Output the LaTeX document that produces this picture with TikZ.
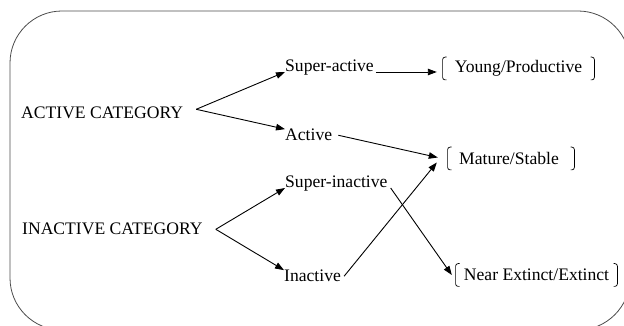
\documentclass[tikz,border=0pt]{standalone}
\usepackage{fontspec}
\setmainfont{Liberation Serif}
\usetikzlibrary{arrows.meta,positioning,calc}
\tikzset{
  lbl/.style={font=\fontsize{17.6}{20}\selectfont,inner sep=0pt,anchor=base west},
  stage/.style={font=\fontsize{17.6}{20}\selectfont,inner sep=0pt,minimum height=24pt,
    path picture={
      \draw[line width=0.7pt,rounded corners=2.5pt]
        ([shift={(4.5pt,-0.6pt)}]path picture bounding box.north west) -- ([shift={(0.6pt,-0.6pt)}]path picture bounding box.north west)
        -- ([shift={(0.6pt,0.6pt)}]path picture bounding box.south west) -- ([shift={(4.5pt,0.6pt)}]path picture bounding box.south west);
      \draw[line width=0.7pt,rounded corners=2.5pt]
        ([shift={(-4.5pt,-0.6pt)}]path picture bounding box.north east) -- ([shift={(-0.6pt,-0.6pt)}]path picture bounding box.north east)
        -- ([shift={(-0.6pt,0.6pt)}]path picture bounding box.south east) -- ([shift={(-4.5pt,0.6pt)}]path picture bounding box.south east);
    }},
  flow/.style={-{Triangle[length=9pt,width=6.5pt]},line width=0.9pt},
  frame/.style={draw=black!70,line width=0.8pt,rounded corners=52pt}
}
\begin{document}
\begin{tikzpicture}[x=1pt,y=1pt]
  \useasboundingbox (0,0) rectangle (624,326);
  % outer frame (runs off the right and bottom edges)
  \draw[frame] (10,-4) rectangle (630,315);
  % categories
  \node[lbl] (act) at (21,207) {ACTIVE CATEGORY};
  \node[lbl] (inact) at (22,91) {INACTIVE CATEGORY};
  % sub-classes
  \node[lbl] (sact) at (285,254) {Super-active};
  \node[lbl] (active) at (285,185) {Active};
  \node[lbl] (sinact) at (285,138) {Super-inactive};
  \node[lbl] (inactive) at (284,44) {Inactive};
  % stages
  \node[stage,minimum width=153pt] (young) at (518.5,257.5) {Young/Productive};
  \node[stage,minimum width=128pt] (mature) at (511,167.5) {\hspace*{-4pt}Mature/Stable};
  \node[stage,minimum width=163pt] (near) at (536.5,51) {Near Extinct/Extinct};
  % forks
  \coordinate (actfork) at ([shift={(13pt,4pt)}]act.east);
  \coordinate (inactfork) at ([shift={(13pt,0pt)}]inact.east);
  \draw[flow] (actfork) -- (sact.base west);
  \draw[flow] (actfork) -- (active.north west);
  \draw[flow] (inactfork) -- (sinact.base west);
  \draw[flow] (inactfork) -- (inactive.north west);
  % transitions
  \draw[flow,shorten >=5pt] ([xshift=2pt]sact.base east) -- (sact.base east -| young.west);
  \draw[flow] ([xshift=6pt]active.east) -- ([shift={(-9pt,1pt)}]mature.west);
  \draw[flow] ([xshift=3pt]inactive.east) -- ([shift={(-10pt,-4pt)}]mature.west);
  \draw[flow] ([xshift=3pt]sinact.base east) -- ([xshift=-3pt]near.west);
\end{tikzpicture}
\end{document}
